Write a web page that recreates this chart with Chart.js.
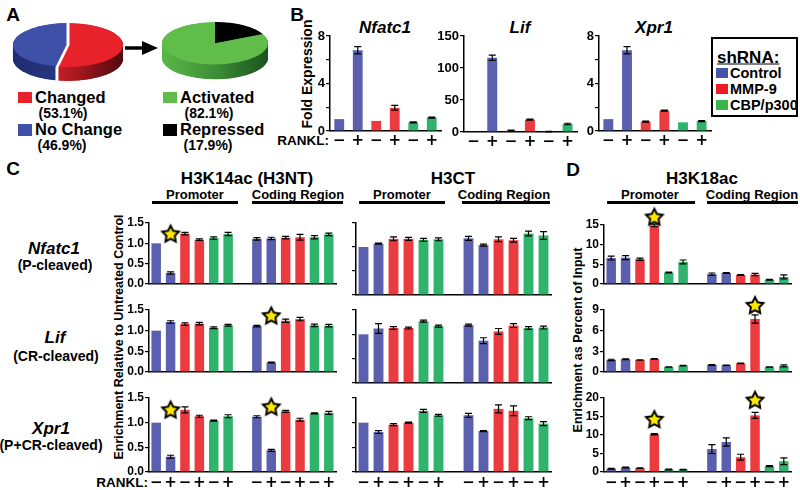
<!DOCTYPE html>
<html>
<head>
<meta charset="utf-8">
<script src="https://cdn.jsdelivr.net/npm/chart.js@4.4.1/dist/chart.umd.min.js"></script>
<style>
body { margin: 0; background: #fff; }
#fig { position: relative; width: 800px; height: 490px; overflow: hidden; background: #fff; font-family: "Liberation Sans", Arial, sans-serif; }
#fig canvas { position: absolute; }
.t { position: absolute; white-space: nowrap; font-weight: bold; line-height: 1; color: #000; }
.c { transform: translate(-50%, -50%); }
.l { transform: translateY(-50%); }
.r { transform: translate(-100%, -50%); }
.v { transform: translate(-50%, -50%) rotate(-90deg); }
.i { font-style: italic; }
.sq { position: absolute; }
.ul { position: absolute; height: 3px; top: 201px; background: #000; }
</style>
</head>
<body>
<div id="fig">
  <!-- panel A -->
  <div class="t c" style="left:13px;top:14px;font-size:19px">A</div>
  <svg style="position:absolute;left:120px;top:38px" width="45" height="22">
    <line x1="5" y1="10" x2="26" y2="10" stroke="#000" stroke-width="3.5"/>
    <polygon points="22,3 38,10 22,17" fill="#000"/>
  </svg>
  <div class="sq" style="left:18px;top:92px;width:14px;height:11px;background:#e8222a"></div>
  <div class="t l" style="left:35px;top:97px;font-size:16.5px">Changed</div>
  <div class="t c" style="left:63px;top:113px;font-size:14px">(53.1%)</div>
  <div class="sq" style="left:18px;top:124px;width:14px;height:12px;background:#3f50a8"></div>
  <div class="t l" style="left:35px;top:129px;font-size:16.5px">No Change</div>
  <div class="t c" style="left:62px;top:145px;font-size:14px">(46.9%)</div>
  <div class="sq" style="left:163px;top:92px;width:14px;height:11px;background:#60bd49"></div>
  <div class="t l" style="left:180px;top:97px;font-size:16.5px">Activated</div>
  <div class="t c" style="left:209px;top:113px;font-size:14px">(82.1%)</div>
  <div class="sq" style="left:163px;top:124px;width:14px;height:12px;background:#000"></div>
  <div class="t l" style="left:180px;top:129px;font-size:16.5px">Repressed</div>
  <div class="t c" style="left:208px;top:145px;font-size:14px">(17.9%)</div>

  <!-- panel B -->
  <div class="t c" style="left:297px;top:14px;font-size:19px">B</div>
  <div class="t v" style="left:307px;top:74px;font-size:14px">Fold Expression</div>
  <div class="t c i" style="left:385px;top:27px;font-size:17px">Nfatc1</div>
  <div class="t c i" style="left:520px;top:27px;font-size:17px">Lif</div>
  <div class="t c i" style="left:654px;top:27px;font-size:17px">Xpr1</div>
  <div class="t r" style="left:329px;top:141px;font-size:13.5px">RANKL:</div>
  <div style="position:absolute;left:711px;top:37px;width:83px;height:76px;border:2px solid #000"></div>
  <div class="t l" style="left:717px;top:57px;font-size:17px;text-decoration:underline">shRNA:</div>
  <div class="sq" style="left:716px;top:68px;width:12px;height:10px;background:#4454a8"></div>
  <div class="t l" style="left:730px;top:73px;font-size:14.5px">Control</div>
  <div class="sq" style="left:716px;top:84px;width:12px;height:10px;background:#ed1c24"></div>
  <div class="t l" style="left:730px;top:89px;font-size:14.5px">MMP-9</div>
  <div class="sq" style="left:716px;top:100px;width:12px;height:10px;background:#3bb54a"></div>
  <div class="t l" style="left:730px;top:105px;font-size:14.5px">CBP/p300</div>

  <!-- panels C and D -->
  <div class="t c" style="left:13px;top:168px;font-size:19px">C</div>
  <div class="t c" style="left:573px;top:169px;font-size:19px">D</div>
  <div class="t c" style="left:247px;top:178px;font-size:17px">H3K14ac (H3NT)</div>
  <div class="t c" style="left:453px;top:178px;font-size:17px">H3CT</div>
  <div class="t c" style="left:702px;top:178px;font-size:17px">H3K18ac</div>
  <div class="t c" style="left:195px;top:194px;font-size:13px">Promoter</div>
  <div class="t c" style="left:298px;top:194px;font-size:13px">Coding Region</div>
  <div class="t c" style="left:402px;top:194px;font-size:13px">Promoter</div>
  <div class="t c" style="left:504px;top:194px;font-size:13px">Coding Region</div>
  <div class="t c" style="left:650px;top:194px;font-size:13px">Promoter</div>
  <div class="t c" style="left:752px;top:194px;font-size:13px">Coding Region</div>
  <div class="ul" style="left:152px;width:86px"></div>
  <div class="ul" style="left:252px;width:91px"></div>
  <div class="ul" style="left:359px;width:86px"></div>
  <div class="ul" style="left:462px;width:88px"></div>
  <div class="ul" style="left:607px;width:88px"></div>
  <div class="ul" style="left:707px;width:91px"></div>
  <div class="t c i" style="left:54px;top:248px;font-size:17px">Nfatc1</div>
  <div class="t c" style="left:55px;top:265px;font-size:14px">(P-cleaved)</div>
  <div class="t c i" style="left:55px;top:337px;font-size:17px">Lif</div>
  <div class="t c" style="left:56px;top:356px;font-size:14px">(CR-cleaved)</div>
  <div class="t c i" style="left:51px;top:428px;font-size:17px">Xpr1</div>
  <div class="t c" style="left:51px;top:445px;font-size:14px">(P+CR-cleaved)</div>
  <div class="t v" style="left:119px;top:337px;font-size:12.5px">Enrichment Relative to Untreated Control</div>
  <div class="t v" style="left:578px;top:340px;font-size:12.5px">Enrichment as Percent of Input</div>
  <div class="t r" style="left:148px;top:483px;font-size:13.5px">RANKL:</div>
</div>
<script>
const FONT = '"Liberation Sans", Arial, sans-serif';
const SIGN_FONT = '"DejaVu Sans", "Liberation Sans", sans-serif';
const blue = '#5a5fae', red = '#ec3b3f', green = '#30b46d';
const groupColors = [blue, blue, red, red, green, green];
const rankl = ['−', '+', '−', '+', '−', '+'];

// A: pies
const changeShare = [53.1, 46.9];        // Changed, No Change
const directionShare = [17.9, 82.1];     // Repressed, Activated

// B: fold expression
const nfatc1Fold = [1.0, 6.8, 0.85, 1.95, 0.73, 1.13];
const nfatc1FoldErr = [0, 0.3, 0, 0.2, 0.05, 0.05];
const lifFold = [1.0, 116, 2.1, 19.4, 0.6, 12.5];
const lifFoldErr = [0, 4, 0.8, 0.8, 0.3, 1.2];
const xpr1Fold = [1.0, 6.8, 0.79, 1.72, 0.73, 0.83];
const xpr1FoldErr = [0, 0.3, 0.04, 0.04, 0, 0.05];

// C: H3K14ac, promoter (P) and coding region (C)
const nfatc1K14P = [1.00, 0.27, 1.24, 1.09, 1.13, 1.23];
const nfatc1K14PErr = [0, 0.03, 0.03, 0.02, 0.03, 0.04];
const nfatc1K14C = [1.11, 1.12, 1.14, 1.15, 1.15, 1.22];
const nfatc1K14CErr = [0.03, 0.03, 0.03, 0.07, 0.04, 0.03];
const lifK14P = [1.00, 1.21, 1.16, 1.17, 1.07, 1.13];
const lifK14PErr = [0, 0.03, 0.03, 0.03, 0.02, 0.02];
const lifK14C = [1.11, 0.23, 1.24, 1.28, 1.13, 1.12];
const lifK14CErr = [0.02, 0.01, 0.04, 0.04, 0.03, 0.03];
const xpr1K14P = [1.00, 0.31, 1.26, 1.13, 1.04, 1.13];
const xpr1K14PErr = [0, 0.03, 0.06, 0.02, 0.01, 0.03];
const xpr1K14C = [1.12, 0.44, 1.23, 1.06, 1.19, 1.20];
const xpr1K14CErr = [0.02, 0.02, 0.02, 0.03, 0.01, 0.03];

// C: H3CT
const nfatc1CtP = [1.00, 1.07, 1.17, 1.17, 1.15, 1.16];
const nfatc1CtPErr = [0, 0.01, 0.04, 0.03, 0.03, 0.03];
const nfatc1CtC = [1.18, 1.04, 1.16, 1.14, 1.28, 1.24];
const nfatc1CtCErr = [0.04, 0.02, 0.05, 0.04, 0.05, 0.08];
const lifCtP = [1.00, 1.12, 1.13, 1.13, 1.27, 1.17];
const lifCtPErr = [0, 0.1, 0.03, 0.02, 0.02, 0.02];
const lifCtC = [1.19, 0.87, 1.06, 1.18, 1.13, 1.14];
const lifCtCErr = [0.02, 0.06, 0.06, 0.04, 0.03, 0.03];
const xpr1CtP = [1.00, 0.81, 0.96, 1.00, 1.24, 1.15];
const xpr1CtPErr = [0, 0.03, 0.02, 0.01, 0.03, 0.02];
const xpr1CtC = [1.15, 0.83, 1.28, 1.24, 1.09, 0.98];
const xpr1CtCErr = [0.04, 0.01, 0.08, 0.1, 0.03, 0.04];

// D: H3K18ac
const nfatc1K18P = [6.6, 6.7, 6.3, 14.9, 2.9, 5.6];
const nfatc1K18PErr = [0.5, 0.5, 0.3, 0.3, 0.1, 0.5];
const nfatc1K18C = [2.5, 2.8, 2.3, 2.4, 1.1, 1.8];
const nfatc1K18CErr = [0.3, 0.1, 0.1, 0.3, 0.1, 0.5];
const lifK18P = [1.75, 1.85, 1.75, 1.9, 0.73, 0.93];
const lifK18PErr = [0.1, 0.05, 0.03, 0.05, 0.03, 0.05];
const lifK18C = [1.02, 0.98, 1.25, 7.7, 0.73, 0.88];
const lifK18CErr = [0.05, 0.03, 0.05, 0.6, 0.03, 0.15];
const xpr1K18P = [0.9, 1.2, 1.05, 10.2, 0.7, 0.65];
const xpr1K18PErr = [0.1, 0.1, 0.1, 0.15, 0.1, 0.1];
const xpr1K18C = [6.2, 8.1, 4.0, 15.3, 1.6, 2.9];
const xpr1K18CErr = [1.2, 1.1, 0.8, 0.8, 0.15, 0.9];

// stars: [slot index, height]
const nfatc1K14Stars = [[1, 1.22]];
const lifK14Stars = [[8, 1.35]];
const xpr1K14Stars = [[1, 1.25], [8, 1.31]];
const nfatc1K18Stars = [[3, 16.9]];
const lifK18Stars = [[10, 9.6]];
const xpr1K18Stars = [[3, 14.1], [10, 19.3]];

// promoter + gap + coding region
const regions = (p, c) => [...p, null, ...c];
const slotLabels = [...rankl, '', ...rankl];
const slotColors = [...groupColors, '#fff', ...groupColors];

const fig = document.getElementById('fig');

const errorBars = {
  id: 'errorBars',
  afterDatasetDraw(chart, args) {
    const ds = chart.data.datasets[args.index];
    if (!ds.errors) return;
    const ctx = chart.ctx, y = chart.scales.y;
    ctx.save();
    ctx.strokeStyle = '#000';
    ctx.lineWidth = 1.2;
    args.meta.data.forEach((bar, i) => {
      const v = ds.data[i], e = ds.errors[i];
      if (v == null || !e) return;
      const yt = y.getPixelForValue(v + e), yb = y.getPixelForValue(Math.max(v - e, 0));
      const c = 3.5;
      ctx.beginPath();
      ctx.moveTo(bar.x, yt); ctx.lineTo(bar.x, yb);
      ctx.moveTo(bar.x - c, yt); ctx.lineTo(bar.x + c, yt);
      ctx.moveTo(bar.x - c, yb); ctx.lineTo(bar.x + c, yb);
      ctx.stroke();
    });
    ctx.restore();
  }
};
Chart.register(errorBars);

function makeStar(R, r) {
  const s = Math.ceil(R * 2 + 2);
  const c = document.createElement('canvas');
  c.width = c.height = s;
  const g = c.getContext('2d');
  const path = (ro) => {
    g.beginPath();
    for (let k = 0; k < 10; k++) {
      const rr = k % 2 ? ro * 0.5 : ro;
      const a = -Math.PI / 2 + k * Math.PI / 5;
      g.lineTo(s / 2 + rr * Math.cos(a), s / 2 + rr * Math.sin(a));
    }
    g.closePath();
  };
  path(R); g.fillStyle = '#000'; g.fill();
  path(r); g.fillStyle = '#ffe800'; g.fill();
  return c;
}
const starImg = makeStar(11, 6.5);

function addBar(g) {
  const yW = 30, padTop = 24, padRight = 5, xH = g.xLabels ? 26 : 2;
  const w = Math.round(yW + g.x1 - g.x0 + padRight);
  const h = Math.round(padTop + g.bottom - g.top + xH);
  const cv = document.createElement('canvas');
  cv.width = w; cv.height = h;
  cv.style.left = Math.round(g.x0 - yW) + 'px';
  cv.style.top = Math.round(g.top - padTop) + 'px';
  fig.appendChild(cv);

  const datasets = [{
    data: g.values, errors: g.errors, backgroundColor: g.colors,
    barPercentage: g.barPct, categoryPercentage: 1, borderWidth: 0, order: 0
  }];
  if (g.stars) {
    const starData = g.labels.map(() => null);
    g.stars.forEach(([i, v]) => { starData[i] = v; });
    datasets.push({
      type: 'line', data: starData, showLine: false, pointStyle: starImg,
      pointRadius: 12, clip: false, order: -1
    });
  }

  new Chart(cv, {
    type: 'bar',
    data: { labels: g.labels, datasets: datasets },
    options: {
      responsive: false,
      animation: false,
      layout: { padding: { top: padTop, right: padRight, left: 0, bottom: 0 } },
      plugins: { legend: { display: false }, tooltip: { enabled: false } },
      scales: {
        x: {
          offset: true,
          grid: { display: false, drawTicks: false },
          border: { display: true, color: '#000', width: 1.5 },
          ticks: {
            display: !!g.xLabels, color: '#000', autoSkip: false, maxRotation: 0,
            padding: g.xPad || 2,
            font: { family: SIGN_FONT, size: 15, weight: 'bold' }
          },
          afterFit: s => { s.height = xH; }
        },
        y: {
          min: g.min, max: g.max,
          grid: { drawOnChartArea: false, drawTicks: true, tickLength: 4, color: '#000', lineWidth: 1.2 },
          border: { display: true, color: '#000', width: 1.5 },
          ticks: {
            display: !!g.yLabels, stepSize: g.step, color: '#000', padding: 1,
            font: { family: FONT, size: g.yFont || 12, weight: 'bold' },
            callback: g.fmt || (v => v)
          },
          afterFit: s => { s.width = yW; }
        }
      }
    }
  });
}

// ---- panel B
const every4 = v => (v % 4 === 0 ? v : '');
addBar({ x0: 330, x1: 441, top: 36, bottom: 131, min: 0, max: 8, step: 2, fmt: every4,
  labels: rankl, values: nfatc1Fold, errors: nfatc1FoldErr, colors: groupColors,
  barPct: 0.53, yLabels: true, yFont: 13, xLabels: true, xPad: 1 });
addBar({ x0: 463.5, x1: 576, top: 35.5, bottom: 131, min: 0, max: 150, step: 50,
  labels: rankl, values: lifFold, errors: lifFoldErr, colors: groupColors,
  barPct: 0.53, yLabels: true, yFont: 13, xLabels: true, xPad: 1 });
addBar({ x0: 599, x1: 711, top: 36, bottom: 131, min: 0, max: 8, step: 2, fmt: every4,
  labels: rankl, values: xpr1Fold, errors: xpr1FoldErr, colors: groupColors,
  barPct: 0.53, yLabels: true, yFont: 13, xLabels: true, xPad: 1 });

// ---- panels C and D
const rows = [
  { top: 223, bottom: 295 },
  { top: 310, bottom: 383 },
  { top: 398, bottom: 471.5 }
];
const cols = { k14: [149, 344], ct: [355.5, 550], k18: [604, 798.5] };
const one = v => v.toFixed(1);

const k14 = [
  [nfatc1K14P, nfatc1K14PErr, nfatc1K14C, nfatc1K14CErr, nfatc1K14Stars],
  [lifK14P, lifK14PErr, lifK14C, lifK14CErr, lifK14Stars],
  [xpr1K14P, xpr1K14PErr, xpr1K14C, xpr1K14CErr, xpr1K14Stars]
];
const ct = [
  [nfatc1CtP, nfatc1CtPErr, nfatc1CtC, nfatc1CtCErr],
  [lifCtP, lifCtPErr, lifCtC, lifCtCErr],
  [xpr1CtP, xpr1CtPErr, xpr1CtC, xpr1CtCErr]
];
const k18 = [
  [nfatc1K18P, nfatc1K18PErr, nfatc1K18C, nfatc1K18CErr, nfatc1K18Stars],
  [lifK18P, lifK18PErr, lifK18C, lifK18CErr, lifK18Stars],
  [xpr1K18P, xpr1K18PErr, xpr1K18C, xpr1K18CErr, xpr1K18Stars]
];
const k18Axes = [[15, 5], [9, 3], [20, 5]];

rows.forEach((row, r) => {
  const last = r === rows.length - 1;
  [[k14, cols.k14, true], [ct, cols.ct, false]].forEach(([set, col, yl]) => {
    const [p, pe, c, ce, st] = set[r];
    addBar({ x0: col[0], x1: col[1], top: row.top, bottom: row.bottom,
      min: 0, max: 1.5, step: 0.5, fmt: one, labels: slotLabels,
      values: regions(p, c), errors: regions(pe, ce), colors: slotColors, stars: st,
      barPct: 0.66, yLabels: yl, xLabels: last });
  });
  const [p, pe, c, ce, st] = k18[r];
  addBar({ x0: cols.k18[0], x1: cols.k18[1], top: row.top + (r === 0 ? 2 : 0), bottom: row.bottom,
    min: 0, max: k18Axes[r][0], step: k18Axes[r][1], labels: slotLabels,
    values: regions(p, c), errors: regions(pe, ce), colors: slotColors, stars: st,
    barPct: 0.66, yLabels: true, xLabels: last });
});

// ---- panel A: squashed pies with a side wall
function pie3d(cfg) {
  return {
    id: 'pie3d',
    beforeDraw(chart) { chart.ctx.save(); chart.ctx.scale(1, cfg.squash); },
    beforeDatasetsDraw(chart) {
      const ctx = chart.ctx;
      const arcs = chart.getDatasetMeta(0).data;
      const fills = arcs.map((a, i) => {
        const gr = ctx.createLinearGradient(a.x - a.outerRadius, 0, a.x + a.outerRadius, 0);
        cfg.sides[i].forEach(([s, col]) => gr.addColorStop(s, col));
        return gr;
      });
      for (let d = cfg.depth; d > 0; d--) {
        arcs.forEach((a, i) => {
          ctx.beginPath();
          ctx.moveTo(a.x, a.y + d);
          ctx.arc(a.x, a.y + d, a.outerRadius, a.startAngle, a.endAngle);
          ctx.closePath();
          ctx.fillStyle = fills[i];
          ctx.fill();
        });
      }
    },
    afterDatasetsDraw(chart) {
      if (!cfg.gap) return;
      const ctx = chart.ctx;
      const a = chart.getDatasetMeta(0).data[0];
      ctx.strokeStyle = '#fff';
      ctx.lineWidth = cfg.gap;
      [a.startAngle, a.endAngle].forEach(t => {
        const px = a.x + (a.outerRadius + 2) * Math.cos(t), py = a.y + (a.outerRadius + 2) * Math.sin(t);
        ctx.beginPath();
        ctx.moveTo(a.x, a.y);
        ctx.lineTo(px, py);
        if (Math.sin(t) > 0) ctx.lineTo(px, py + cfg.depth);
        ctx.stroke();
      });
    },
    afterDraw(chart) { chart.ctx.restore(); }
  };
}

function addPie(left, top, w, pad, values, colors, cfg) {
  const cv = document.createElement('canvas');
  cv.width = w; cv.height = 160;
  cv.style.left = left + 'px';
  cv.style.top = top + 'px';
  fig.appendChild(cv);
  new Chart(cv, {
    type: 'pie',
    data: { datasets: [{ data: values, backgroundColor: colors, borderWidth: 0 }] },
    options: {
      responsive: false,
      animation: false,
      layout: { padding: pad },
      plugins: { legend: { display: false }, tooltip: { enabled: false } }
    },
    plugins: [pie3d(cfg)]
  });
}

addPie(8, 21, 120, { left: 5, right: 5, top: 5, bottom: 45 }, changeShare, ['#e8222a', '#3f50a8'], {
  squash: 0.4, depth: 35, gap: 3,
  sides: [
    [[0, '#e02028'], [0.45, '#c01d24'], [1, '#520a0d']],
    [[0, '#202c72'], [1, '#34449a']]
  ]
});
addPie(157, 20, 117, { left: 5, right: 6, top: 5, bottom: 49 }, directionShare, ['#000', '#60bd49'], {
  squash: 0.4, depth: 37, gap: 0,
  sides: [
    [[0, '#000'], [1, '#000']],
    [[0, '#5ab747'], [0.5, '#3d8f36'], [1, '#1b521d']]
  ]
});
</script>
</body>
</html>
